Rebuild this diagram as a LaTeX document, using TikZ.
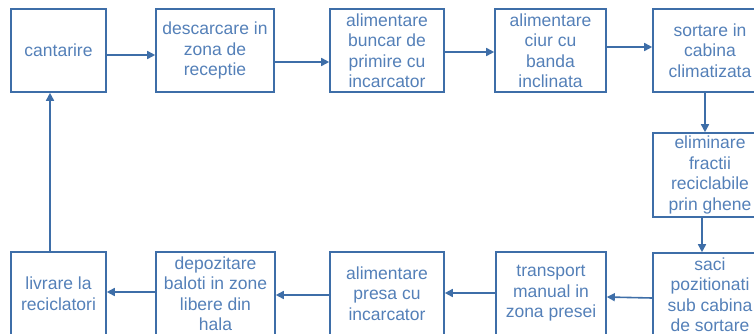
\documentclass[tikz,border=0pt]{standalone}
\usepackage{fontspec}
\setmainfont{Liberation Sans}
\usetikzlibrary{arrows.meta}
\definecolor{boxblue}{RGB}{62,110,168}
\definecolor{textblue}{RGB}{84,128,184}
\tikzset{
  flowbox/.style={draw=boxblue, line width=1.6pt, minimum height=83pt, inner sep=0pt,
    align=center, text=textblue, font=\fontsize{17.5}{20.5}\selectfont},
  arr/.style={draw=boxblue, line width=1.6pt, -{Triangle[length=8pt,width=8pt]}},
  conn/.style={draw=boxblue, line width=1.6pt}
}
\begin{document}
\begin{tikzpicture}[x=1pt,y=-1pt]
\useasboundingbox (0,0) rectangle (754,333);
\clip (0,0) rectangle (754,333);
% top row
\node[flowbox, minimum width=95pt]  (cant) at (58.5,50.5) {cantarire};
\node[flowbox, minimum width=118pt] (desc) at (215,50.5) {descarcare in\\zona de\\receptie};
\node[flowbox, minimum width=114pt] (bunc) at (387,50.5) {alimentare\\buncar de\\primire cu\\incarcator};
\node[flowbox, minimum width=111pt] (ciur) at (550.5,50.5) {alimentare\\ciur cu\\banda\\inclinata};
\node[flowbox, minimum width=114pt] (sort) at (710,50.5) {sortare in\\cabina\\climatizata};
% right column
\node[flowbox, minimum width=114pt, minimum height=84pt] (elim) at (710,175) {eliminare\\fractii\\reciclabile\\prin ghene};
\node[flowbox, minimum width=114pt] (saci) at (710,294.5) {saci\\pozitionati\\sub cabina\\de sortare};
% bottom row
\node[flowbox, minimum width=110pt] (tran) at (551,293.5) {transport\\manual in\\zona presei};
\node[flowbox, minimum width=114pt] (pres) at (387,293.5) {alimentare\\presa cu\\incarcator};
\node[flowbox, minimum width=119pt] (depo) at (215.5,293.5) {depozitare\\baloti in zone\\libere din\\hala};
\node[flowbox, minimum width=95pt]  (livr) at (58.5,293.5) {livrare la\\reciclatori};
% connectors top row
\draw[arr] ([yshift=-4.5pt]cant.east) -- ([yshift=-4.5pt]desc.west);
\draw[arr] ([yshift=-11.5pt]desc.east) -- ([yshift=-11.5pt]bunc.west);
\draw[arr] ([yshift=-1.5pt]bunc.east) -- ([yshift=-1.5pt]ciur.west);
\draw[arr] ([yshift=3.5pt]ciur.east) -- ([yshift=3.5pt]sort.west);
% right column
\draw[arr] ([xshift=-5pt]sort.south) -- ([xshift=-5pt]elim.north);
\draw[arr] ([xshift=-8pt]elim.south) -- ([xshift=-8pt]saci.north);
% bottom row
\draw[arr] ([yshift=-3.5pt]saci.west) -- ([yshift=-3.5pt]tran.east);
\draw[arr] ([yshift=0.5pt]tran.west) -- ([yshift=0.5pt]pres.east);
\draw[arr] ([yshift=-1.5pt]pres.west) -- ([yshift=-1.5pt]depo.east);
\draw[arr] ([yshift=1.5pt]depo.west) -- ([yshift=1.5pt]livr.east);
% return
\draw[arr] ([xshift=-8.5pt]livr.north) -- ([xshift=-8.5pt]cant.south);
\end{tikzpicture}
\end{document}
